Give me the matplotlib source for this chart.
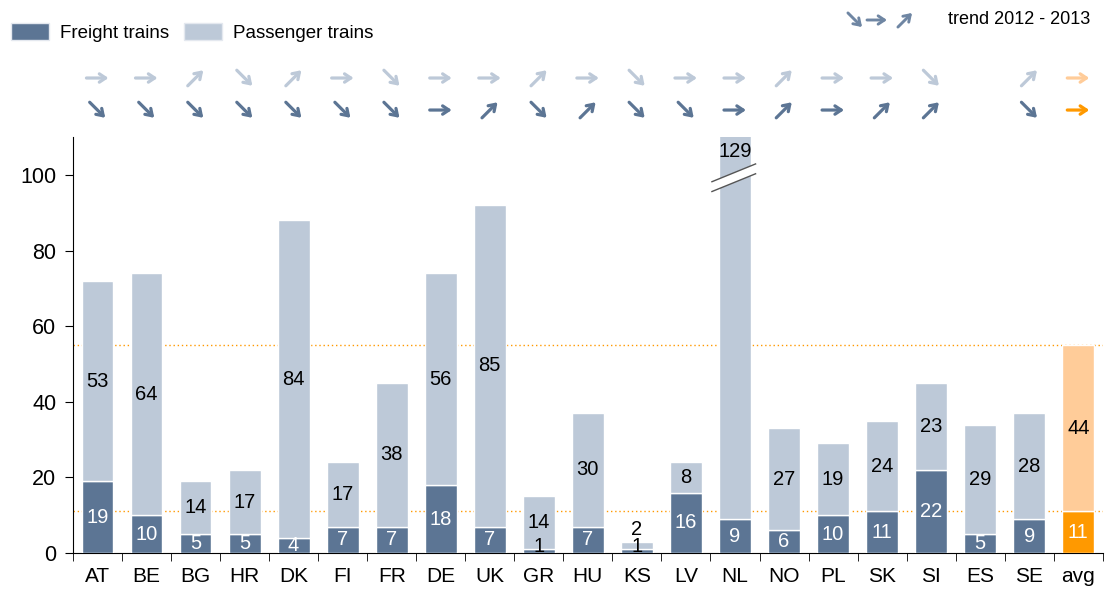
import matplotlib
matplotlib.use("Agg")
import matplotlib.pyplot as plt
import matplotlib.patches as mpatches
from matplotlib import transforms

plt.rcParams['font.family'] = ['Liberation Sans', 'DejaVu Sans']

##### DATA #####
countries = ["AT", "BE", "BG", "HR", "DK", "FI", "FR", "DE", "UK", "GR", "HU",
             "KS", "LV", "NL", "NO", "PL", "SK", "SI", "ES", "SE", "avg"]
freight = [19, 10, 5, 5, 4, 7, 7, 18, 7, 1, 7, 1, 16, 9, 6, 10, 11, 22, 5, 9, 11]
passenger = [53, 64, 14, 17, 84, 17, 38, 56, 85, 14, 30, 2, 8, 129, 27, 19, 24, 23, 29, 28, 44]
# trend 2012 - 2013: 1 up, 0 flat, -1 down, None no data
trend_passenger = [0, 0, 1, -1, 1, 0, -1, 0, 0, 1, 0, -1, 0, 0, 1, 0, 0, -1, None, 1, 0]
trend_freight = [-1, -1, -1, -1, -1, -1, -1, 0, 1, -1, 1, -1, -1, 0, 1, 0, 1, 1, None, -1, 0]

C_FREIGHT = "#5c7594"
C_PASS = "#bdc9d8"
C_AVG_FREIGHT = "#ff9900"
C_AVG_PASS = "#ffcc99"
YMAX = 110

fig = plt.figure(figsize=(11.05, 5.96), dpi=100)
ax = fig.add_axes([0.066, 0.072, 0.932, 0.698])

x = list(range(len(countries)))
fcol = [C_FREIGHT] * (len(x) - 1) + [C_AVG_FREIGHT]
pcol = [C_PASS] * (len(x) - 1) + [C_AVG_PASS]
ax.bar(x, freight, width=0.65, color=fcol, edgecolor="white", linewidth=1, zorder=3)
ax.bar(x, passenger, width=0.65, bottom=freight, color=pcol, edgecolor="white",
       linewidth=1, zorder=3)

# dotted average lines
avg_f = freight[-1]
avg_t = freight[-1] + passenger[-1]
for yv in (avg_f, avg_t):
    ax.axhline(yv, color=C_AVG_FREIGHT, linestyle=(0, (1, 2)), linewidth=1, zorder=1)

# value labels
for i in x:
    f, p = freight[i], passenger[i]
    if f < 2:
        ax.text(i, 1.8, str(f), ha="center", va="center", fontsize=14.5, color="black", zorder=5)
    else:
        ax.text(i, f / 2, str(f), ha="center", va="center", fontsize=14.5, color="white", zorder=5)
    top = f + p
    if top > YMAX:
        ax.text(i, YMAX - 3.8, str(p), ha="center", va="center", fontsize=14.5, zorder=5)
    elif p < 4:
        ax.text(i, top + 3.3, str(p), ha="center", va="center", fontsize=14.5, zorder=5)
    else:
        ax.text(i, f + p / 2, str(p), ha="center", va="center", fontsize=14.5, zorder=5)

# axis break on the clipped bar
for i in x:
    if freight[i] + passenger[i] > YMAX:
        x0, x1 = i - 0.47, i + 0.42
        band = mpatches.Polygon([(x0, 98.2), (x1, 102.9), (x1, 100.3), (x0, 95.6)],
                                closed=True, facecolor="white", edgecolor="none", zorder=6)
        ax.add_patch(band)
        ax.plot([x0, x1], [98.2, 102.9], color="#555555", lw=1, zorder=7)
        ax.plot([x0, x1], [95.6, 100.3], color="#555555", lw=1, zorder=7)

ax.set_xlim(-0.5, len(x) - 0.5)
ax.set_ylim(0, YMAX)
ax.set_yticks([0, 20, 40, 60, 80, 100])
ax.set_xticks(x)
ax.set_xticklabels(countries)
ax.set_xticks([i - 0.5 for i in range(len(x) + 1)], minor=True)
ax.tick_params(axis="x", which="major", length=0, pad=10, labelsize=15)
ax.tick_params(axis="x", which="minor", length=6, direction="out")
ax.tick_params(axis="y", length=6, direction="out", labelsize=15.5, pad=6)
for s in ("top", "right"):
    ax.spines[s].set_visible(False)

# trend arrows above the plot
blend = transforms.blended_transform_factory(ax.transData, ax.transAxes)
L = 22.0


def arrow(trans_base, cx, cy, d, color, length=L, lw=2.3):
    dx, dy = (1.0, 0.0) if d == 0 else (0.7071, 0.7071 * d)
    head = transforms.offset_copy(trans_base, fig=fig, x=dx * length / 2, y=dy * length / 2, units="dots")
    tail = transforms.offset_copy(trans_base, fig=fig, x=-dx * length / 2, y=-dy * length / 2, units="dots")
    ax.annotate("", xy=(cx, cy), xycoords=head, xytext=(cx, cy), textcoords=tail,
                arrowprops=dict(arrowstyle="->,head_length=0.45,head_width=0.3", color=color,
                                lw=lw, shrinkA=0, shrinkB=0), annotation_clip=False)


for i in x:
    last = i == len(x) - 1
    if trend_passenger[i] is not None:
        arrow(blend, i, 1.142, trend_passenger[i], C_AVG_PASS if last else C_PASS)
    if trend_freight[i] is not None:
        arrow(blend, i, 1.065, trend_freight[i], C_AVG_FREIGHT if last else C_FREIGHT)

# trend legend
for cx, d in ((855, -1), (877, 0), (905, 1)):
    arrow(transforms.IdentityTransform(), cx, 596 - 20, d, "#6f86a3", length=20, lw=2.1)
fig.text(948 / 1105, 1 - 20 / 596, "trend 2012 - 2013", fontsize=13, va="center", ha="left")

# legend
handles = [mpatches.Patch(facecolor=C_FREIGHT, edgecolor="#e4e8ef"),
           mpatches.Patch(facecolor=C_PASS, edgecolor="#e4e8ef")]
fig.legend(handles, ["Freight trains", "Passenger trains"], loc="upper left",
           bbox_to_anchor=(-0.005, 0.99), ncol=2, frameon=False, fontsize=13.5,
           handlelength=2.0, handleheight=1.0, columnspacing=0.8, handletextpad=0.6)

fig.savefig("out.png", dpi=100)
